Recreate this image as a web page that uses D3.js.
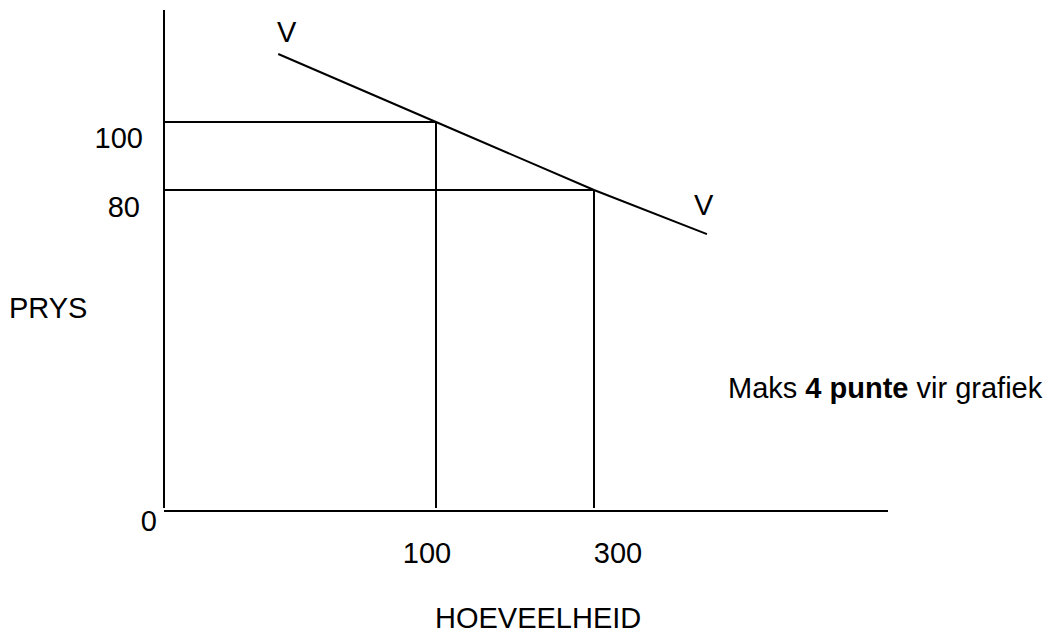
<!DOCTYPE html>
<html>
<head>
<meta charset="utf-8">
<script src="https://cdn.jsdelivr.net/npm/d3@7"></script>
<style>
  body { margin: 0; background: #fff; }
  text { font-family: "Liberation Sans", Arial, sans-serif; font-size: 29px; fill: #000; }
  .ax { stroke: #000; stroke-width: 2; }
</style>
</head>
<body>
<svg id="chart" width="1058" height="635"></svg>
<script>
// tick values on each axis (axes are not to scale)
var qTicks = [0, 100, 300];
var pTicks = [0, 80, 100];

// demand curve V-V
var demandQ = [42, 100, 300, 443];
var demandP = [120, 100, 80, 69];

// equilibrium points marked with guide lines
var pointQ = [100, 300];
var pointP = [100, 80];

var svg = d3.select("#chart");

// polylinear scales, since the sketch is not drawn to scale
var x = d3.scaleLinear().domain(qTicks).range([164, 436, 594]);
var y = d3.scaleLinear().domain(pTicks).range([511, 190, 122]);

// axes
svg.append("line").attr("class", "ax")
    .attr("x1", x(0)).attr("y1", 10)
    .attr("x2", x(0)).attr("y2", y(0) - 3);
svg.append("line").attr("class", "ax")
    .attr("x1", x(0)).attr("y1", y(0))
    .attr("x2", 888).attr("y2", y(0));

// guide lines from each point to the axes
pointQ.forEach(function (q, i) {
    var p = pointP[i];
    svg.append("line").attr("class", "ax")
        .attr("x1", x(0)).attr("y1", y(p))
        .attr("x2", x(q)).attr("y2", y(p));
    svg.append("line").attr("class", "ax")
        .attr("x1", x(q)).attr("y1", y(p))
        .attr("x2", x(q)).attr("y2", y(0) - 3);
});

// demand line
var line = d3.line()
    .x(function (d) { return x(d[0]); })
    .y(function (d) { return y(d[1]); });
svg.append("path")
    .datum(d3.zip(demandQ, demandP))
    .attr("d", line)
    .attr("fill", "none")
    .attr("stroke", "#000")
    .attr("stroke-width", 2);

// tick labels on the quantity axis
svg.append("g")
    .attr("transform", "translate(0," + y(0) + ")")
    .call(d3.axisBottom(x).tickValues([100, 300]).tickSize(0).tickPadding(0))
    .call(function (g) { g.select(".domain").remove(); })
    .selectAll("text")
    .attr("font-size", null).attr("font-family", null)
    .attr("dy", null).attr("y", 52)
    .attr("dx", function (d) { return d === 300 ? 23.5 : -9.5; });

// tick labels on the price axis
svg.append("text").attr("x", 143).attr("y", y(100) + 26).attr("text-anchor", "end").text("100");
svg.append("text").attr("x", 140).attr("y", y(80) + 27).attr("text-anchor", "end").text("80");
svg.append("text").attr("x", 157).attr("y", y(0) + 20).attr("text-anchor", "end").text("0");

// curve labels
svg.append("text").attr("x", 277).attr("y", 42).text("V");
svg.append("text").attr("x", 694).attr("y", 215).text("V");

// axis titles
svg.append("text").attr("x", 9).attr("y", 318).text("PRYS");
svg.append("text").attr("x", 435).attr("y", 628).text("HOEVEELHEID");

// marks note
var note = svg.append("text").attr("x", 728).attr("y", 398);
note.append("tspan").text("Maks ");
note.append("tspan").attr("font-weight", "bold").text("4 punte");
note.append("tspan").text(" vir grafiek");
</script>
</body>
</html>
